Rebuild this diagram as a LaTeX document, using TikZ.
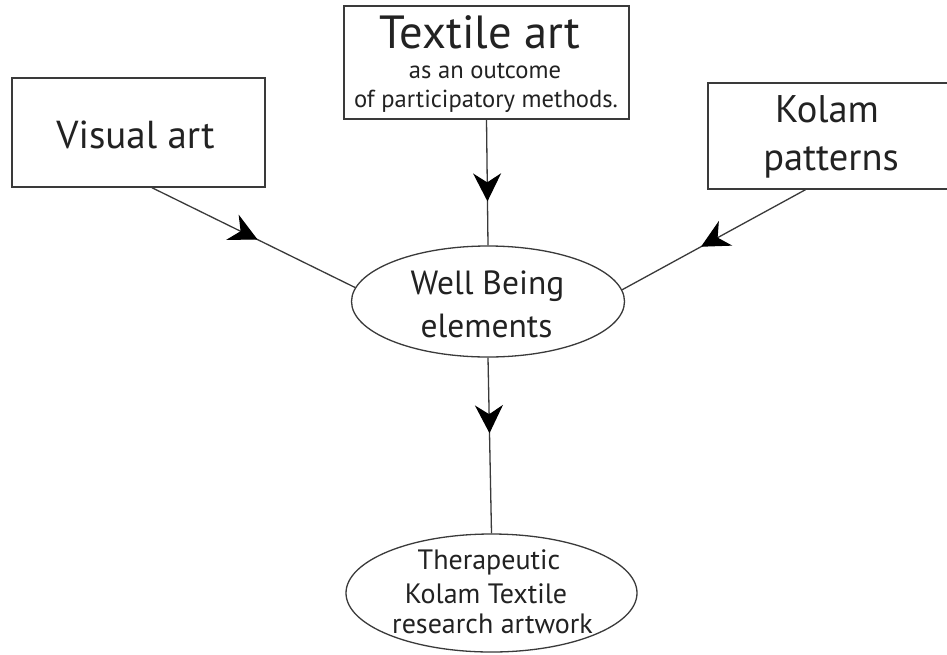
\documentclass[tikz,border=0pt]{standalone}
\usepackage{fontspec}
\setmainfont{PT Sans}
\usetikzlibrary{arrows.meta,shapes.geometric,decorations.markings,calc}
\definecolor{ink}{HTML}{222222}
\definecolor{linec}{HTML}{3A3A3A}
\tikzset{
  boxshape/.style={draw=linec, line width=1.4pt, rectangle, inner sep=0pt},
  ovalshape/.style={draw=linec, line width=1.3pt, ellipse, inner sep=0pt},
  lbl/.style={text=ink, inner sep=0pt, anchor=base},
  conn/.style={draw=linec, line width=1.3pt},
  midarrow/.style={postaction={decorate}, decoration={markings,
    mark=at position #1 with {\arrow[black]{Stealth[length=28pt,width=28pt,inset=9pt]}}}}
}
\begin{document}
\begin{tikzpicture}[x=1pt,y=-1pt]
\useasboundingbox (0,0) rectangle (947,654);
\fill[white] (0,0) rectangle (947,654);

% boxes
\node[boxshape, minimum width=285pt, minimum height=113pt] (textile) at (486.5,62.5) {};
\node[boxshape, minimum width=253pt, minimum height=109pt] (visual) at (138.5,132.5) {};
\node[boxshape, minimum width=244pt, minimum height=106pt] (kolam) at (830,136) {};

% ellipses
\node[ovalshape, minimum width=273pt, minimum height=111pt] (wb) at (488,301.5) {};
\node[ovalshape, minimum width=291pt, minimum height=118pt] (out) at (491.5,593) {};

% texts
\node[lbl, font=\fontsize{46.5}{46}\selectfont] (t1) at (480,48) {Textile art};
\node[lbl, font=\fontsize{24.6}{28}\selectfont] (t2) at (485,78) {as an outcome};
\node[lbl, font=\fontsize{24.6}{28}\selectfont] (t3) at (486,107) {of participatory methods.};

\node[lbl, font=\fontsize{39}{42}\selectfont] (v1) at (135.5,148) {Visual art};

\node[lbl, font=\fontsize{38.5}{44}\selectfont] (k1) at (827,122) {Kolam};
\node[lbl, font=\fontsize{38.5}{44}\selectfont] (k2) at (831,170) {patterns};

\node[lbl, font=\fontsize{33.5}{33}\selectfont] (w1) at (487.5,294) {Well Being};
\node[lbl, font=\fontsize{33.5}{33}\selectfont] (w2) at (486.5,337) {elements};

\node[lbl, font=\fontsize{28}{30}\selectfont] (o1) at (489,569) {Therapeutic};
\node[lbl, font=\fontsize{28}{30}\selectfont] (o2) at (486,603) {Kolam Textile};
\node[lbl, font=\fontsize{28}{30}\selectfont] (o3) at (492.5,633) {research artwork};

% connectors
\draw[conn, midarrow=0.65] (textile.south) -- (wb.north);
\draw[conn, midarrow=0.43] (wb.south) -- (out.north);
\draw[conn, midarrow=0.52] ($(visual.south west)!0.553!(visual.south east)$) -- (wb.174);
\draw[conn, midarrow=0.57] ($(kolam.south west)!0.40!(kolam.south east)$) -- (wb.5);
\end{tikzpicture}
\end{document}
